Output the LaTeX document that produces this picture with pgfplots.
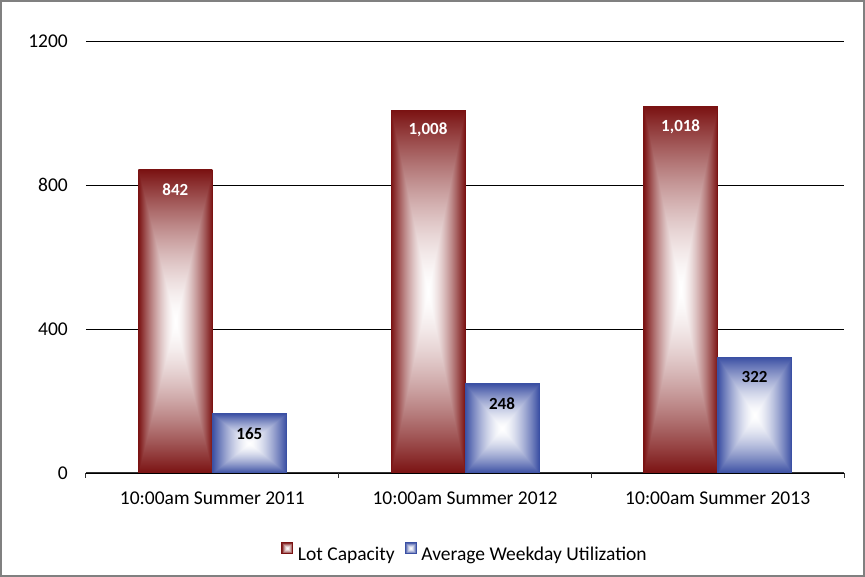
\documentclass[border=0pt]{standalone}
\usepackage{fontspec}
\setmainfont{Carlito}
\usepackage{pgfplots}
\pgfplotsset{compat=1.18}

% rectangular "from centre" gradients: white in the middle, dark at the edges
\pgfdeclarefunctionalshading{redrect}{\pgfpointorigin}{\pgfpoint{100bp}{100bp}}{}{
  50 sub abs 25 div exch 50 sub abs 25 div
  2 copy lt {exch} if pop
  dup 1 gt {pop 1} if
  dup sqrt mul
  dup dup
  0.52 mul 1 exch sub
  3 1 roll
  0.93 mul 1 exch sub
  exch 0.93 mul 1 exch sub
}
\pgfdeclarefunctionalshading{bluerect}{\pgfpointorigin}{\pgfpoint{100bp}{100bp}}{}{
  50 sub abs 25 div exch 50 sub abs 25 div
  2 copy lt {exch} if pop
  dup 1 gt {pop 1} if
  dup sqrt mul
  dup dup
  0.77 mul 1 exch sub
  3 1 roll
  0.69 mul 1 exch sub
  exch 0.36 mul 1 exch sub
}
\definecolor{redEdge}{RGB}{122,18,18}
\definecolor{blueEdge}{RGB}{58,80,164}

% one \addplot per bar, so that every bar gets its own gradient
\pgfplotsset{
  capbar/.style={ybar, bar shift=-37pt, shade, shading=redrect,
      draw=redEdge, line width=0.6pt,
      every node near coord/.append style={text=white, xshift=-37pt}},
  utilbar/.style={ybar, bar shift=37pt, shade, shading=bluerect,
      draw=blueEdge, line width=0.6pt,
      every node near coord/.append style={text=black, xshift=37pt}},
}

\begin{document}
\begin{tikzpicture}
\begin{axis}[
    width=758pt, height=432pt, scale only axis,
    bar width=74pt,
    xmin=-0.5, xmax=2.5, ymin=0, ymax=1200,
    xtick={0,1,2},
    xticklabels={10:00am Summer 2011, 10:00am Summer 2012, 10:00am Summer 2013},
    minor xtick={-0.5,0.5,1.5,2.5},
    ytick={0,400,800,1200},
    axis x line*=bottom, axis y line*=left,
    y axis line style={draw=none},
    x axis line style={black!80, line width=1pt},
    tick align=outside,
    major tick length=0pt, minor tick length=5pt,
    minor x tick style={black!80, line width=1pt},
    ymajorgrids, grid style={black, line width=0.9pt},
    tick label style={font=\fontsize{19.5}{23}\selectfont},
    /pgf/number format/assume math mode=true,
    yticklabel style={anchor=east, inner sep=0pt, xshift=-18pt,
                      /pgf/number format/1000 sep={}},
    xticklabel style={anchor=center, inner sep=0pt, yshift=-25pt},
    scaled y ticks=false,
    nodes near coords={\pgfmathprintnumber[1000 sep={,}]{\pgfplotspointmeta}},
    every node near coord/.append style={anchor=center, yshift=-20pt,
        font=\fontsize{17}{20}\selectfont\bfseries},
    legend style={at={(0.5,-0.185)}, anchor=center, draw=none,
        font=\fontsize{19.5}{23}\selectfont, legend columns=-1,
        /tikz/every odd column/.append style={column sep=3pt},
        /tikz/every even column/.append style={column sep=8pt}},
    legend image code/.code={\draw[#1] (0pt,0.5pt) rectangle (11pt,11.5pt);},
]
\addplot[capbar]  coordinates {(0,842)};
\addplot[utilbar] coordinates {(0,165)};
\addplot[capbar, forget plot]  coordinates {(1,1008)};
\addplot[utilbar, forget plot] coordinates {(1,248)};
\addplot[capbar, forget plot]  coordinates {(2,1018)};
\addplot[utilbar, forget plot] coordinates {(2,322)};
\legend{Lot Capacity, Average Weekday Utilization}
\end{axis}
\draw[black!50, line width=2pt] (-85pt,-103pt) rectangle (778pt,472pt);
\end{tikzpicture}
\end{document}
